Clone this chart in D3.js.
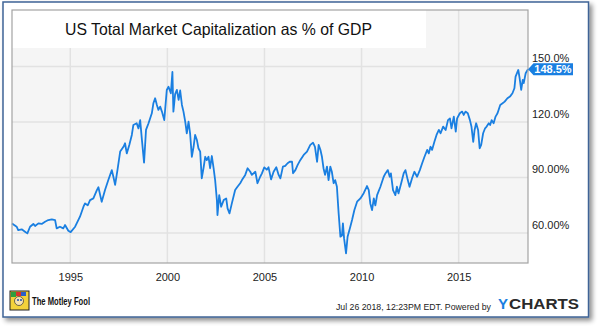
<!DOCTYPE html>
<html><head><meta charset="utf-8">
<script src="https://cdn.jsdelivr.net/npm/d3@7"></script>
<style>html,body{margin:0;padding:0;background:#fff;}svg{display:block;font-family:"Liberation Sans",Arial,sans-serif;}</style>
</head><body>
<script>
const titleText = "US Total Market Capitalization as % of GDP";
const years = [1992.00,1992.24,1992.32,1992.50,1992.67,1992.79,1992.93,1993.10,1993.19,1993.36,1993.53,1993.70,1993.87,1994.05,1994.22,1994.30,1994.47,1994.64,1994.73,1994.90,1995.02,1995.25,1995.50,1995.68,1995.76,1995.90,1996.02,1996.19,1996.37,1996.45,1996.54,1996.62,1996.79,1996.96,1997.14,1997.22,1997.31,1997.43,1997.57,1997.74,1997.82,1997.91,1998.04,1998.17,1998.25,1998.42,1998.51,1998.60,1998.69,1998.80,1998.90,1999.03,1999.20,1999.28,1999.37,1999.46,1999.54,1999.63,1999.72,1999.84,1999.97,2000.06,2000.18,2000.26,2000.31,2000.40,2000.49,2000.58,2000.66,2000.75,2000.83,2000.92,2001.00,2001.09,2001.17,2001.26,2001.35,2001.43,2001.52,2001.60,2001.69,2001.77,2001.86,2001.95,2002.03,2002.12,2002.20,2002.29,2002.38,2002.46,2002.55,2002.58,2002.67,2002.77,2002.90,2003.03,2003.10,2003.20,2003.32,2003.49,2003.61,2003.75,2003.84,2004.01,2004.13,2004.27,2004.35,2004.53,2004.64,2004.78,2004.87,2004.99,2005.12,2005.21,2005.34,2005.47,2005.61,2005.73,2005.82,2005.95,2006.07,2006.19,2006.30,2006.42,2006.47,2006.59,2006.71,2006.85,2007.02,2007.19,2007.36,2007.50,2007.60,2007.71,2007.79,2007.88,2007.96,2008.04,2008.12,2008.22,2008.30,2008.39,2008.47,2008.56,2008.64,2008.73,2008.82,2008.91,2008.99,2009.04,2009.10,2009.20,2009.28,2009.42,2009.51,2009.63,2009.77,2009.94,2010.11,2010.28,2010.37,2010.45,2010.54,2010.63,2010.71,2010.80,2010.97,2011.14,2011.23,2011.35,2011.45,2011.51,2011.62,2011.74,2011.82,2011.90,2012.04,2012.17,2012.26,2012.38,2012.47,2012.60,2012.72,2012.86,2013.00,2013.12,2013.24,2013.38,2013.46,2013.55,2013.63,2013.75,2013.86,2013.98,2014.07,2014.20,2014.33,2014.45,2014.55,2014.63,2014.75,2014.85,2014.92,2015.06,2015.18,2015.26,2015.35,2015.47,2015.58,2015.66,2015.75,2015.82,2015.90,2016.00,2016.08,2016.16,2016.26,2016.36,2016.44,2016.55,2016.62,2016.70,2016.80,2016.90,2017.00,2017.14,2017.26,2017.37,2017.51,2017.64,2017.77,2017.87,2017.93,2018.07,2018.14,2018.22,2018.30,2018.35,2018.45,2018.57];
const values = [65.2,63.4,61.6,62.0,60.7,59.8,63.4,64.9,63.8,65.2,64.9,66.1,67.0,67.4,67.0,62.5,63.4,62.5,64.3,61.2,60.5,63.4,68.8,74.2,76.0,75.0,77.8,78.7,83.2,84.7,80.5,76.9,83.2,88.6,94.0,90.4,86.0,94.0,104.0,106.6,108.5,103.0,107.6,113.0,118.4,119.3,116.5,121.0,110.3,98.0,115.7,119.3,124.7,130.1,132.8,129.2,126.5,128.3,125.6,121.0,137.3,139.0,135.5,147.0,125.6,135.0,137.3,131.9,137.0,129.2,125.6,120.2,113.9,120.2,113.9,101.2,106.6,113.0,110.3,105.8,104.0,89.6,95.0,101.2,99.4,101.2,95.0,101.6,95.0,88.6,77.8,69.7,80.5,74.2,77.8,78.7,73.3,70.6,76.0,83.2,85.0,86.9,88.6,91.4,95.0,93.1,91.4,93.1,86.9,90.4,92.2,95.5,94.2,95.5,89.0,93.1,95.5,91.4,89.5,95.9,96.3,97.7,98.5,98.5,92.3,94.0,96.8,99.5,102.2,104.0,107.6,108.8,106.6,98.5,107.6,105.0,101.2,95.0,91.4,95.9,88.6,95.9,93.1,86.9,88.6,85.0,70.6,58.0,58.6,65.2,57.1,49.0,58.0,63.4,67.0,72.4,76.9,78.7,81.5,85.4,83.2,76.0,72.4,78.7,74.9,80.5,85.0,90.4,92.2,94.0,90.4,92.2,83.2,80.5,85.0,81.4,86.9,92.3,94.0,88.6,85.0,89.6,93.1,90.4,94.0,97.7,101.2,104.9,103.0,106.6,104.9,109.3,113.0,115.7,113.9,117.5,115.7,121.0,121.9,116.6,122.9,114.8,121.9,124.7,125.6,123.8,125.6,124.7,121.0,117.4,109.3,115.7,119.3,115.7,105.8,107.6,113.9,116.6,117.5,119.3,118.4,121.0,119.3,122.9,124.7,129.2,130.1,131.0,132.8,133.7,135.5,138.2,144.5,148.1,143.6,137.3,142.7,141.0,146.3,148.5];
const xTicks = [1995, 2000, 2005, 2010, 2015];
const yTicks = [60, 90, 120, 150];
const yTickLabels = ["60.00%", "90.00%", "120.0%", "150.0%"];
const lastLabel = "148.5%";
const stampText = "Jul 26 2018, 12:23PM EDT.  Powered by";

const W = 602, H = 329;
const L = 12, R = 528, T = 10, B = 263;
const svg = d3.select("body").append("svg").attr("width", W).attr("height", H);

// outer frame with shadow
const defs = svg.append("defs");
const f = defs.append("filter").attr("id","sh").attr("x","-5%").attr("y","-5%").attr("width","115%").attr("height","115%");
f.append("feGaussianBlur").attr("in","SourceAlpha").attr("stdDeviation",2.5);
f.append("feOffset").attr("dx",3).attr("dy",3).attr("result","b");
f.append("feComponentTransfer").append("feFuncA").attr("type","linear").attr("slope",0.45);
const fm = f.append("feMerge"); fm.append("feMergeNode"); fm.append("feMergeNode").attr("in","SourceGraphic");
svg.append("rect").attr("x",3).attr("y",2).attr("width",585.5).attr("height",315)
  .attr("fill","#fff").attr("stroke","#3f6496").attr("stroke-width",1.5).attr("filter","url(#sh)");

const x = d3.scaleLinear().domain([1992.0, 2018.57]).range([L, R]);
const y = d3.scaleLinear().domain([43.8, 180.5]).range([B, T]);

// plot background
svg.append("rect").attr("x",L).attr("y",T).attr("width",R-L).attr("height",B-T).attr("fill","#f5f5f5");

// grid
svg.append("g").selectAll("line").data(yTicks).join("line")
  .attr("x1",L).attr("x2",R).attr("y1",d=>y(d)).attr("y2",d=>y(d))
  .attr("stroke","#e2e2e2").attr("stroke-width",1.5);
svg.append("g").selectAll("line").data(xTicks).join("line")
  .attr("y1",T).attr("y2",B).attr("x1",d=>x(d)).attr("x2",d=>x(d))
  .attr("stroke","#e2e2e2").attr("stroke-width",1.5);

// title box
svg.append("rect").attr("x",L).attr("y",T).attr("width",426-L).attr("height",48-T).attr("fill","#fff");
svg.append("text").attr("x",65).attr("y",35).attr("font-size",16.5).attr("fill","#111")
  .attr("textLength",307).attr("lengthAdjust","spacingAndGlyphs").text(titleText);

// line
const pts = years.map((yr,i)=>[yr, values[i]]);
svg.append("path").datum(pts)
  .attr("d", d3.line().x(d=>x(d[0])).y(d=>y(d[1])))
  .attr("fill","none").attr("stroke","#1a7fe1").attr("stroke-width",1.8).attr("stroke-linejoin","round");

// plot border
svg.append("rect").attr("x",L).attr("y",T).attr("width",R-L).attr("height",B-T)
  .attr("fill","none").attr("stroke","#a3a3a3").attr("stroke-width",1.2);

// x axis
const xAxis = d3.axisBottom(x).tickValues(xTicks).tickFormat(d3.format("d")).tickSize(0).tickPadding(10);
const gx = svg.append("g").attr("transform",`translate(0,${B})`).call(xAxis);
gx.select(".domain").remove();
gx.selectAll("text").attr("font-size",11).attr("fill","#222").attr("font-family","Liberation Sans, Arial, sans-serif");

// y axis labels
const yAxis = d3.axisRight(y).tickValues(yTicks).tickFormat((d,i)=>yTickLabels[i]).tickSize(0).tickPadding(4);
const gy = svg.append("g").attr("transform",`translate(${R},0)`).call(yAxis);
gy.select(".domain").remove();
gy.selectAll("text").attr("font-size",11).attr("fill","#222").attr("dy","-0.45em")
  .attr("font-family","Liberation Sans, Arial, sans-serif");

// last value badge
const ly = y(values[values.length-1]);
svg.append("path")
  .attr("d",`M${R},${ly} L${R+5.5},${ly-6} L573,${ly-6} L573,${ly+6} L${R+5.5},${ly+6} Z`)
  .attr("fill","#1a7fe1");
svg.append("text").attr("x",553).attr("y",ly+4).attr("text-anchor","middle")
  .attr("font-size",11).attr("font-weight","bold").attr("fill","#fff").text(lastLabel);

// footer: Motley Fool logo
const lg = svg.append("g");
lg.append("rect").attr("x",10).attr("y",291).attr("width",19).attr("height",19).attr("fill","#f3d23a").attr("stroke","#222").attr("stroke-width",1);
lg.append("rect").attr("x",11).attr("y",292).attr("width",5).attr("height",5).attr("fill","#2e9e3e");
lg.append("rect").attr("x",16).attr("y",292).attr("width",5).attr("height",4).attr("fill","#d8322c");
lg.append("rect").attr("x",21).attr("y",292).attr("width",5).attr("height",4).attr("fill","#2c5fc8");
lg.append("circle").attr("cx",19).attr("cy",301).attr("r",4.5).attr("fill","#f6e3b0").attr("stroke","#333").attr("stroke-width",0.7);
lg.append("circle").attr("cx",18).attr("cy",300).attr("r",1).attr("fill","#1a4fb0");
lg.append("circle").attr("cx",21).attr("cy",300).attr("r",1).attr("fill","#1a4fb0");
svg.append("text").attr("x",32).attr("y",304.5).attr("font-size",10.5).attr("font-weight","bold").attr("fill","#111")
  .attr("textLength",58).attr("lengthAdjust","spacingAndGlyphs").text("The Motley Fool");

// timestamp + YCHARTS
svg.append("text").attr("x",336).attr("y",309.5).attr("font-size",8.8).attr("fill","#222")
  .attr("textLength",155).attr("lengthAdjust","spacingAndGlyphs").text(stampText);
svg.append("text").attr("x",498).attr("y",309).attr("font-size",15).attr("font-weight","bold")
  .attr("fill","#1a7fe1").text("Y");
svg.append("text").attr("x",509).attr("y",309).attr("font-size",15).attr("font-weight","bold")
  .attr("fill","#2a2a2a").attr("textLength",70).attr("lengthAdjust","spacingAndGlyphs").text("CHARTS");
</script>
</body></html>
